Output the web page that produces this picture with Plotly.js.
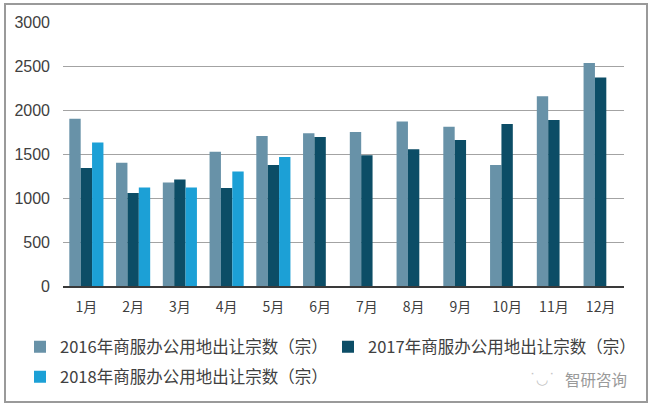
<!DOCTYPE html>
<html>
<head>
<meta charset="utf-8">
<script src="https://cdn.plot.ly/plotly-3.0.1.min.js"></script>
<style>
  html, body { margin: 0; padding: 0; background: #fff; }
  #wrap { position: relative; width: 650px; height: 407px; }
  #app { position: absolute; left: 0; top: 0; width: 650px; height: 407px; }
  #frame {
    position: absolute; left: 4px; top: 3px; width: 640px; height: 396px;
    border: 2px solid #9a9a9a; pointer-events: none;
  }
</style>
</head>
<body>
<div id="wrap">
  <div id="app"></div>
  <div id="frame"></div>
</div>
<script>
// months on the x axis
const months = ['1月', '2月', '3月', '4月', '5月', '6月', '7月', '8月', '9月', '10月', '11月', '12月'];

// 商服办公用地出让宗数（宗）
const v2016 = [1900, 1400, 1175, 1525, 1705, 1735, 1750, 1870, 1810, 1375, 2155, 2535];
const v2017 = [1340, 1057, 1210, 1115, 1375, 1693, 1485, 1553, 1660, 1840, 1885, 2368];
const v2018 = [1630, 1118, 1118, 1300, 1466, null, null, null, null, null, null, null];

const names = [
  '2016年商服办公用地出让宗数（宗）',
  '2017年商服办公用地出让宗数（宗）',
  '2018年商服办公用地出让宗数（宗）',
];

const yTicks = [0, 500, 1000, 1500, 2000, 2500, 3000];

const FONT = 'Liberation Sans, Arial, sans-serif';
const CJK = 'Noto Sans CJK SC, Liberation Sans, sans-serif';

const data = [
  { x: months, y: v2016, name: names[0], type: 'bar', marker: { color: '#6892a8' }, legend: 'legend', showlegend: true },
  { x: months, y: v2017, name: names[1], type: 'bar', marker: { color: '#0c4d66' }, legend: 'legend2', showlegend: true },
  { x: months, y: v2018, name: names[2], type: 'bar', marker: { color: '#1ca0d6' }, legend: 'legend3', showlegend: true },
];

// one legend box per series so each entry sits where the reference has it
const legendAt = (px, py) => ({
  orientation: 'h',
  xref: 'container',
  yref: 'container',
  xanchor: 'left',
  yanchor: 'middle',
  x: px / 650,
  y: 1 - py / 407,
  font: { family: CJK, size: 16.5, color: '#404040' },
  bgcolor: 'rgba(0,0,0,0)',
  itemclick: false,
  visible: true,
});

const layout = {
  width: 650,
  height: 407,
  autosize: false,
  showlegend: true,
  margin: { l: 63, r: 26, t: 22, b: 121 },
  paper_bgcolor: '#ffffff',
  plot_bgcolor: '#ffffff',
  barmode: 'group',
  bargap: 0.27,
  bargroupgap: 0,
  xaxis: {
    type: 'category',
    showgrid: false,
    showline: true,
    linecolor: '#3a3a3a',
    linewidth: 1.5,
    ticks: '',
    ticklabelstandoff: 8,
    tickfont: { family: CJK, size: 14, color: '#404040' },
  },
  yaxis: {
    range: [0, 3000],
    tickvals: yTicks,
    showgrid: true,
    gridcolor: '#a3a3a3',
    gridwidth: 1,
    zeroline: false,
    showline: false,
    ticks: '',
    ticklabelstandoff: 12,
    tickfont: { family: FONT, size: 16, color: '#404040' },
  },
  legend: legendAt(20, 347),
  legend2: legendAt(328, 347),
  legend3: legendAt(20, 377),
  annotations: [
    {
      xref: 'paper', yref: 'paper',
      x: (542 - 63) / 561, y: (285.7 - 379) / 264,
      text: '˙◡˙',
      showarrow: false,
      font: { family: 'DejaVu Sans', size: 14, color: '#c4c4c4' },
      xanchor: 'center', yanchor: 'middle',
    },
    {
      xref: 'paper', yref: 'paper',
      x: (596 - 63) / 561, y: (285.7 - 379) / 264,
      text: '智研咨询',
      showarrow: false,
      font: { family: CJK, size: 15.5, color: '#9a9a9a' },
      xanchor: 'center', yanchor: 'middle',
    },
  ],
};

Plotly.newPlot('app', data, layout, { displayModeBar: false, staticPlot: true });
</script>
</body>
</html>
